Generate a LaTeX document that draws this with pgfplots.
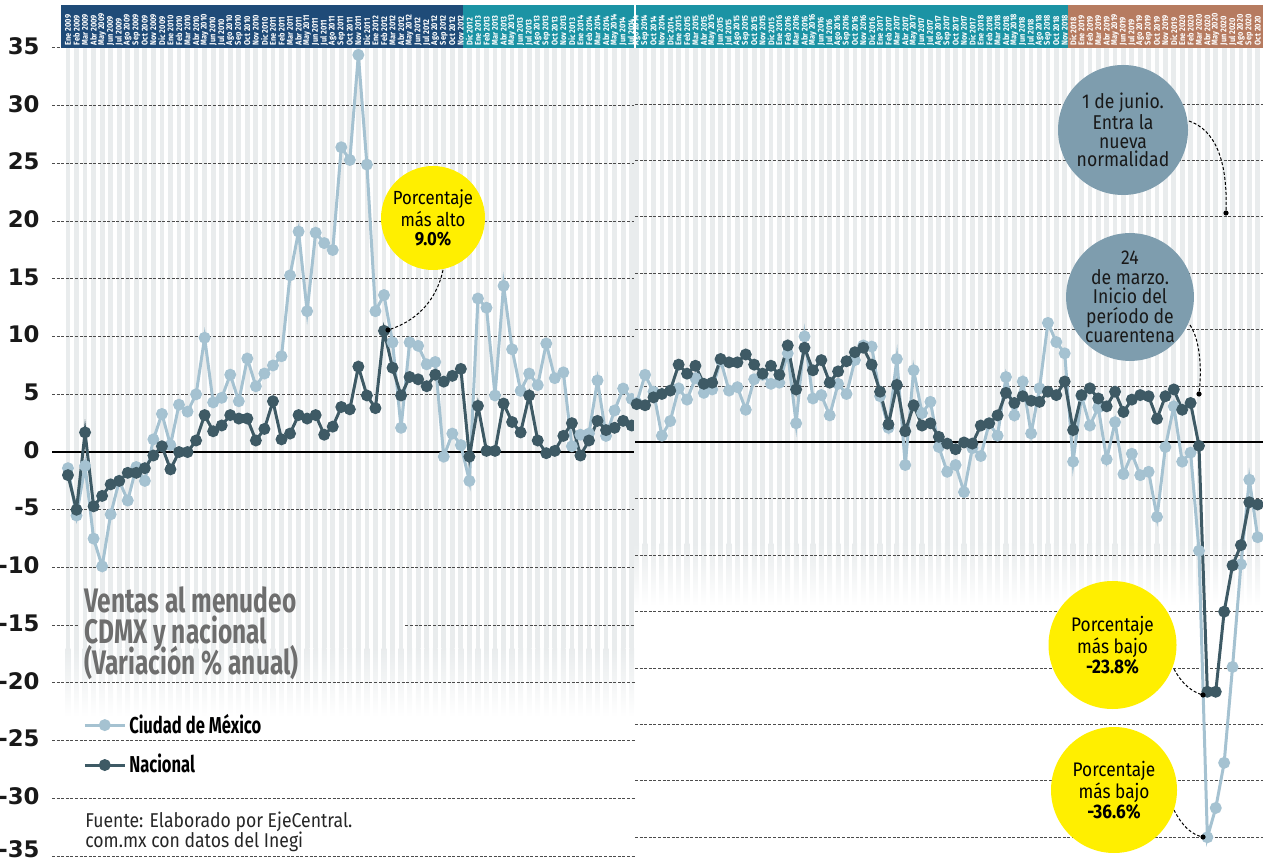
\documentclass[border=0pt]{standalone}
\usepackage{pgfplots}
\pgfplotsset{compat=1.18}
\usepackage{pgfplotstable}
\usepackage{fontspec}
\setmainfont{Fira Sans}
\newfontfamily\condA[FakeStretch=0.72]{Fira Sans}
\newfontfamily\condB[FakeStretch=0.88]{Fira Sans}
\newfontfamily\tickf{DejaVu Sans}

\definecolor{cdmx}{HTML}{A5C2D1}
\definecolor{nac}{HTML}{3E5A65}
\definecolor{hnavy}{HTML}{1F4B78}
\definecolor{hteal}{HTML}{1B93A4}
\definecolor{hbrown}{HTML}{B67B60}
\definecolor{stripe}{HTML}{E9ECED}
\definecolor{ylw}{HTML}{FFEF00}
\definecolor{gcirc}{HTML}{7E9DAE}
\definecolor{titleg}{HTML}{6E6E6E}

\pgfplotstableread{
x y
0 -1.4
1 -5.5
2 -1.2
3 -7.5
4 -9.9
5 -5.4
6 -2.5
7 -4.2
8 -1.3
9 -2.5
10 1.1
11 3.3
12 0.6
13 4.1
14 3.5
15 5.0
16 9.9
17 4.3
18 4.7
19 6.7
20 4.4
21 8.1
22 5.7
23 6.8
24 7.5
25 8.3
26 15.3
27 19.1
28 12.2
29 19.0
30 18.1
31 17.5
32 26.4
33 25.3
34 34.4
35 24.9
36 12.2
37 13.6
38 9.5
39 2.1
40 9.5
41 9.2
42 7.6
43 7.8
44 -0.4
45 1.6
46 0.6
47 -2.5
48 13.3
49 12.5
50 4.9
51 14.4
52 8.9
53 5.3
54 6.8
55 5.8
56 9.4
57 6.4
58 6.9
59 0.5
60 1.5
61 1.6
62 6.2
63 1.4
64 3.6
65 5.5
66 4.6
}\leftcdmx

\pgfplotstableread{
x y
0 -2.0
1 -5.0
2 1.7
3 -4.7
4 -3.8
5 -2.8
6 -2.5
7 -1.8
8 -1.8
9 -1.4
10 -0.3
11 0.5
12 -1.5
13 0.0
14 0.0
15 1.0
16 3.2
17 1.8
18 2.3
19 3.2
20 2.9
21 2.9
22 1.0
23 2.0
24 4.4
25 1.1
26 1.6
27 3.2
28 2.9
29 3.2
30 1.5
31 2.2
32 3.9
33 3.7
34 7.4
35 4.9
36 3.8
37 10.5
38 7.3
39 4.9
40 6.5
41 6.3
42 5.7
43 6.7
44 6.1
45 6.6
46 7.2
47 -0.4
48 4.0
49 0.1
50 0.1
51 4.2
52 2.6
53 1.7
54 4.9
55 1.0
56 -0.1
57 0.1
58 1.4
59 2.5
60 -0.3
61 1.0
62 2.7
63 1.9
64 2.1
65 2.7
66 2.3
}\leftnac

\pgfplotstableread{
x y
0 3.5
1 6.0
2 4.5
3 0.6
4 1.9
5 4.8
6 3.8
7 5.7
8 4.4
9 4.7
10 7.3
11 4.6
12 4.9
13 2.9
14 5.6
15 6.0
16 5.2
17 5.3
18 7.9
19 1.7
20 9.4
21 3.9
22 4.2
23 2.4
24 5.2
25 4.3
26 7.3
27 8.6
28 8.5
29 4.1
30 1.3
31 7.4
32 -2.0
33 6.4
34 2.6
35 3.6
36 -0.4
37 -2.6
38 -2.0
39 -4.4
40 -0.5
41 -1.2
42 1.7
43 0.6
44 5.8
45 2.4
46 5.4
47 0.8
48 4.8
49 10.6
50 8.9
51 7.9
52 -1.7
53 4.1
54 1.5
55 3.1
56 -1.5
57 1.8
58 -2.8
59 -1.0
60 -2.9
61 -2.6
62 -6.6
63 -0.4
64 3.2
65 -1.7
66 -0.9
67 -9.6
68 -35.0
69 -32.4
70 -28.4
71 -19.9
72 -10.8
73 -3.3
74 -8.4
}\rightcdmx

\pgfplotstableread{
x y
0 3.4
1 3.3
2 4.0
3 4.3
4 4.6
5 6.9
6 6.1
7 6.8
8 5.2
9 5.3
10 7.4
11 7.1
12 7.1
13 7.8
14 6.9
15 6.1
16 6.8
17 6.0
18 8.6
19 4.7
20 8.4
21 6.4
22 7.3
23 5.3
24 6.3
25 7.2
26 8.0
27 8.4
28 6.9
29 4.5
30 1.6
31 5.1
32 1.0
33 3.3
34 1.5
35 1.7
36 0.5
37 -0.1
38 -0.6
39 0.0
40 -0.1
41 1.5
42 1.7
43 2.4
44 4.4
45 3.5
46 4.1
47 3.7
48 3.6
49 4.5
50 4.2
51 5.4
52 1.1
53 4.2
54 4.8
55 3.9
56 3.2
57 4.5
58 2.7
59 3.8
60 4.2
61 4.1
62 2.1
63 4.1
64 4.7
65 2.9
66 3.5
67 -0.3
68 -22.1
69 -22.1
70 -15.0
71 -10.9
72 -9.1
73 -5.3
74 -5.5
}\rightnac

\pgfplotsset{
  panel/.style={
    scale only axis, clip=false, anchor=south west, height=407.5pt,
    axis line style={draw=none}, major tick length=0pt, tick style={draw=none},
    xticklabel pos=upper,
    xticklabel style={rotate=90, anchor=west, text=white, inner sep=1.2pt,
      font=\condB\bfseries\fontsize{4.2}{5}\selectfont},
  },
  cdmxp/.style={color=cdmx, line width=1.5pt, mark=*, mark size=2.2pt, mark options={solid}},
  nacp/.style={color=nac, line width=1.5pt, mark=*, mark size=2.2pt, mark options={solid}},
}
\tikzset{
  gridl/.style={draw=black!70, line width=0.5pt, dash pattern=on 1.5pt off 0.8pt},
  conn/.style={draw=black, line width=0.5pt, dash pattern=on 1.5pt off 1pt},
}

\begin{document}
\begin{tikzpicture}
\useasboundingbox (0,0) rectangle (631.5pt,431.5pt);

% header bands
\begin{scope}[x=0.5pt,y=-0.5pt,yshift=431.5pt]
  \fill[hnavy] (61,5) rectangle (463,48);
  \fill[hteal] (463,5) rectangle (633.5,48);
  \fill[hteal] (635.5,5) rectangle (1068,48);
  \fill[hbrown] (1068,5) rectangle (1263,48);
\end{scope}

% ---------------- left panel ----------------
\begin{axis}[panel, at={(26pt,0pt)}, width=291.5pt,
  xmin=-1.87, xmax=66.39, ymin=-35.6, ymax=35,
  xtick={0,...,66},
  xticklabels={Ene 2009,Feb 2009,Mar 2009,Abr 2009,May 2009,Jun 2009,Jul 2009,Ago 2009,Sep 2009,Oct 2009,Nov 2009,Dic 2009,
    Ene 2010,Feb 2010,Mar 2010,Abr 2010,May 2010,Jun 2010,Jul 2010,Ago 2010,Sep 2010,Oct 2010,Nov 2010,Dic 2010,
    Ene 2011,Feb 2011,Mar 2011,Abr 2011,May 2011,Jun 2011,Jul 2011,Ago 2011,Sep 2011,Oct 2011,Nov 2011,Dic 2011,
    Ene 2012,Feb 2012,Mar 2012,Abr 2012,May 2012,Jun 2012,Jul 2012,Ago 2012,Sep 2012,Oct 2012,Nov 2012,Dic 2012,
    Ene 2013,Feb 2013,Mar 2013,Abr 2013,May 2013,Jun 2013,Jul 2013,Ago 2013,Sep 2013,Oct 2013,Nov 2013,Dic 2013,
    Ene 2014,Feb 2014,Mar 2014,Abr 2014,May 2014,Jun 2014,Jul 2014},
  ytick={-30,-25,-20,-15,-10,-5,0,5,10,15,20,25,30,35},
  yticklabels={-30,-25,-20,-15,-10,-5,0,5,10,15,20,25,30,35},
  yticklabel style={font=\tickf\bfseries\fontsize{11.4}{12}\selectfont, text=black!90,
    anchor=east, inner sep=0pt, xshift=-6pt, yshift=1pt},
  extra y ticks={-35},
  extra y tick labels={-35},
  extra y tick style={yticklabel style={yshift=2.5pt}},
  legend style={at={(axis description cs:0.053,0.187)}, anchor=north west, draw=none, fill=none,
    inner sep=0pt, font=\condA\bfseries\fontsize{11.5}{12}\selectfont, row sep=6pt,
    nodes={inner sep=1.5pt}},
  legend cell align=left,
  legend image code/.code={\draw[mark repeat=2,mark phase=2,#1] plot coordinates {(0pt,0pt) (10pt,0pt) (20pt,0pt)};},
]
\pgfplotsinvokeforeach{0,...,66}{
  \fill[stripe] (axis cs:{#1-0.28},-17) rectangle (axis cs:{#1+0.28},35);
  \shade[top color=stripe, bottom color=white] (axis cs:{#1-0.28},-23) rectangle (axis cs:{#1+0.28},-17);}
\pgfplotsinvokeforeach{-35,-30,-25,-20,-10,-5,5,10,15,20,25,30}{\draw[gridl] (axis cs:-1.87,#1) -- (axis cs:66.39,#1);}
\draw[gridl] (axis cs:-1.87,-15) -- (axis cs:1.2,-15);
\draw[gridl] (axis cs:39.5,-15) -- (axis cs:66.39,-15);
\draw[gridl] (axis cs:-1.87,35) -- (axis cs:-0.8,35);
\draw[black, line width=1pt] (axis cs:-1.87,0) -- (axis cs:66.39,0);
\addplot[cdmxp] table[x=x,y=y] {\leftcdmx};
\addlegendentry{Ciudad de México}
\addplot[nacp] table[x=x,y=y] {\leftnac};
\addlegendentry{Nacional}
\end{axis}

% ---------------- right panel ----------------
\begin{axis}[panel, at={(317.5pt,0pt)}, width=314pt,
  xmin=-0.2, xmax=74.63, ymin=-37.28, ymax=34.97,
  xtick={0,...,74},
  xticklabels={Ago 2014,Sep 2014,Oct 2014,Nov 2014,Dic 2014,
    Ene 2015,Feb 2015,Mar 2015,Abr 2015,May 2015,Jun 2015,Jul 2015,Ago 2015,Sep 2015,Oct 2015,Nov 2015,Dic 2015,
    Ene 2016,Feb 2016,Mar 2016,Abr 2016,May 2016,Jun 2016,Jul 2016,Ago 2016,Sep 2016,Oct 2016,Nov 2016,Dic 2016,
    Ene 2017,Feb 2017,Mar 2017,Abr 2017,May 2017,Jun 2017,Jul 2017,Ago 2017,Sep 2017,Oct 2017,Nov 2017,Dic 2017,
    Ene 2018,Feb 2018,Mar 2018,Abr 2018,May 2018,Jun 2018,Jul 2018,Ago 2018,Sep 2018,Oct 2018,Nov 2018,Dic 2018,
    Ene 2019,Feb 2019,Mar 2019,Abr 2019,May 2019,Jun 2019,Jul 2019,Ago 2019,Sep 2019,Oct 2019,Nov 2019,Dic 2019,
    Ene 2020,Feb 2020,Mar 2020,Abr 2020,May 2020,Jun 2020,Jul 2020,Ago 2020,Sep 2020,Oct 2020},
  ytick=\empty,
]
\pgfplotsinvokeforeach{0,...,74}{
  \fill[stripe] (axis cs:{#1-0.28},-9) rectangle (axis cs:{#1+0.28},34.97);
  \shade[top color=stripe, bottom color=white] (axis cs:{#1-0.28},-14.5) rectangle (axis cs:{#1+0.28},-9);}
\pgfplotsinvokeforeach{-35,-30,-25,-20,-15,-10,-5,5,10,15,20,25,30}{\draw[gridl] (axis cs:-0.2,#1) -- (axis cs:74.63,#1);}
\draw[black, line width=1pt] (axis cs:-0.2,0) -- (axis cs:74.63,0);
\addplot[cdmxp] table[x=x,y=y] {\rightcdmx};
\addplot[nacp] table[x=x,y=y] {\rightnac};
\end{axis}

% ---------------- annotations ----------------
\begin{scope}[x=0.5pt,y=-0.5pt,yshift=431.5pt]
  % title
  \node[anchor=base west, inner sep=0pt, text=titleg, font=\condA\bfseries\fontsize{17}{17}\selectfont] at (84,612) {Ventas al menudeo};
  \node[anchor=base west, inner sep=0pt, text=titleg, font=\condA\bfseries\fontsize{17}{17}\selectfont] at (84,643) {CDMX y nacional};
  \node[anchor=base west, inner sep=0pt, text=titleg, font=\condA\bfseries\fontsize{17}{17}\selectfont] at (84,674) {(Variación \% anual)};
  % source
  \node[anchor=base west, inner sep=0pt, text=black!85, font=\condB\fontsize{10}{10}\selectfont] at (85,827) {Fuente: Elaborado por EjeCentral.};
  \node[anchor=base west, inner sep=0pt, text=black!85, font=\condB\fontsize{10}{10}\selectfont] at (85,847) {com.mx con datos del Inegi};

  % connectors
  \draw[conn] (443,270) .. controls (436,303) and (414,322) .. (388,330);
  \fill (388,330) circle[radius=1.3pt];
  \draw[conn] (1189,121) .. controls (1215,130) and (1228,160) .. (1226,213);
  \fill (1226,213) circle[radius=1.3pt];
  \draw[conn] (1190,325) .. controls (1200,340) and (1202,368) .. (1199,394);
  \fill (1199,394) circle[radius=1.3pt];
  \draw[conn] (1174,669) .. controls (1182,684) and (1192,692) .. (1203,695);
  \fill (1203,695) circle[radius=1.3pt];
  \draw[conn] (1174,810) .. controls (1182,826) and (1192,835) .. (1203,837);
  \fill (1203,837) circle[radius=1.3pt];

  % circles
  \node[circle, fill=ylw, minimum size=52pt, inner sep=0pt, align=center, text=black,
    font=\condB\fontsize{9.5}{9.5}\selectfont] at (433,218) {Porcentaje\\más alto\\\textbf{9.0\%}};
  \node[circle, fill=gcirc, minimum size=65pt, inner sep=0pt, align=center, text=black!90,
    font=\condB\fontsize{10}{9.2}\selectfont] at (1123,130) {1 de junio.\\Entra la\\nueva\\normalidad};
  \node[circle, fill=gcirc, minimum size=63pt, inner sep=0pt, align=center, text=black!90,
    font=\condB\fontsize{10}{9.7}\selectfont] at (1130,297) {24\\de marzo.\\Inicio del\\período de\\cuarentena};
  \node[circle, fill=ylw, minimum size=64pt, inner sep=0pt, align=center, text=black,
    font=\condB\fontsize{9.8}{8.7}\selectfont] at (1112.5,645) {Porcentaje\\más bajo\\\textbf{-23.8\%}};
  \node[circle, fill=ylw, minimum size=63pt, inner sep=0pt, align=center, text=black,
    font=\condB\fontsize{9.8}{8.7}\selectfont] at (1114,790) {Porcentaje\\más bajo\\\textbf{-36.6\%}};
\end{scope}
\end{tikzpicture}
\end{document}
